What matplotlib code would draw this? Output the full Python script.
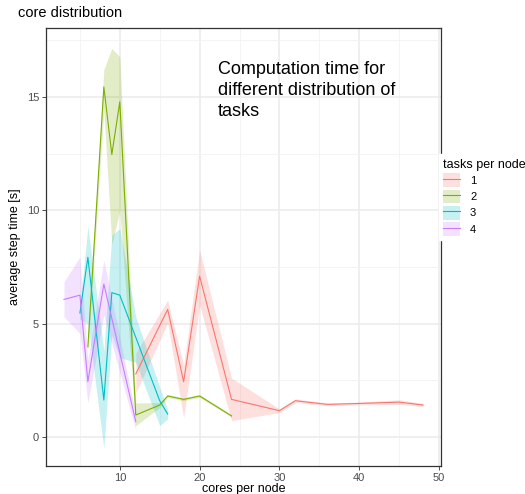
import matplotlib

matplotlib.use("Agg")
import matplotlib.pyplot as plt
from matplotlib.lines import Line2D
from matplotlib.patches import Patch
from matplotlib.legend_handler import HandlerTuple
from matplotlib.ticker import MultipleLocator

plt.rcParams["font.family"] = ["Liberation Sans", "DejaVu Sans"]

# mean step time per cores-per-node, with lower/upper band, for each tasks-per-node setting
t1_cores = [12, 16, 18, 20, 24, 30, 32, 36, 40, 45, 48]
t1_mean = [2.78, 5.63, 2.44, 7.10, 1.66, 1.16, 1.60, 1.44, 1.48, 1.54, 1.41]
t1_lo = [1.94, 5.03, 0.84, 5.82, 0.72, 1.08, 1.52, 1.38, 1.42, 1.44, 1.34]
t1_hi = [3.70, 6.04, 3.18, 8.25, 2.60, 1.24, 1.68, 1.50, 1.54, 1.64, 1.48]

t2_cores = [6, 8, 9, 10, 12, 15, 16, 18, 20, 24]
t2_mean = [3.98, 15.45, 12.47, 14.79, 0.97, 1.41, 1.81, 1.66, 1.81, 0.93]
t2_lo = [3.70, 14.40, 8.50, 10.00, 0.50, 1.30, 1.74, 1.60, 1.75, 0.88]
t2_hi = [4.30, 16.22, 17.15, 16.78, 1.50, 1.52, 1.88, 1.72, 1.87, 0.98]

t3_cores = [5, 6, 8, 9, 10, 12, 15, 16]
t3_mean = [5.47, 7.93, 1.63, 6.37, 6.26, 4.40, 1.60, 1.01]
t3_lo = [5.20, 5.00, -0.50, 4.50, 3.50, 3.30, 0.50, 0.80]
t3_hi = [5.80, 9.30, 3.80, 8.90, 9.20, 5.30, 2.20, 1.20]

t4_cores = [3, 5, 6, 8, 12]
t4_mean = [6.07, 6.26, 2.44, 6.75, 0.68]
t4_lo = [5.31, 4.57, 1.50, 5.40, 0.30]
t4_hi = [6.85, 7.95, 3.40, 7.80, 1.00]

task_labels = ["1", "2", "3", "4"]
colors = ["#F8766D", "#7CAE00", "#00BFC4", "#C77CFF"]

series = [
    (t1_cores, t1_mean, t1_lo, t1_hi),
    (t2_cores, t2_mean, t2_lo, t2_hi),
    (t3_cores, t3_mean, t3_lo, t3_hi),
    (t4_cores, t4_mean, t4_lo, t4_hi),
]

fig = plt.figure(figsize=(5.25, 4.94), dpi=100)
ax = fig.add_axes([0.0876, 0.0567, 0.7524, 0.8866])

for (x, m, lo, hi), c in zip(series, colors):
    ax.fill_between(x, lo, hi, color=c, alpha=0.22, linewidth=0, zorder=2)
    ax.plot(x, m, color=c, linewidth=0.8, zorder=3)

ax.set_xlim(0.75, 50.25)
ax.set_ylim(-1.28, 18.05)
ax.xaxis.set_major_locator(MultipleLocator(10))
ax.xaxis.set_minor_locator(MultipleLocator(5))
ax.yaxis.set_major_locator(MultipleLocator(5))
ax.yaxis.set_minor_locator(MultipleLocator(2.5))

ax.grid(which="major", color="#EBEBEB", linewidth=1.1, zorder=0)
ax.grid(which="minor", color="#F2F2F2", linewidth=0.6, zorder=0)
ax.set_axisbelow(True)

ax.tick_params(which="major", length=3, width=0.6, color="#333333",
               labelsize=8, labelcolor="#4D4D4D", pad=2)
ax.tick_params(which="minor", length=0)
for s in ax.spines.values():
    s.set_color("#333333")
    s.set_linewidth(0.9)

ax.set_xlabel("cores per node", fontsize=9, labelpad=0)
ax.set_ylabel("average step time [s]", fontsize=9, labelpad=4)

fig.text(0.034, 0.959, "core distribution", fontsize=10.5, ha="left", va="bottom")

ax.text(0.435, 0.925, "Computation time for\ndifferent distribution of\ntasks",
        transform=ax.transAxes, fontsize=13, ha="left", va="top", linespacing=1.3)

handles = [
    (Patch(facecolor=c, alpha=0.22, edgecolor="none"),
     Line2D([], [], color=c, linewidth=0.8))
    for c in colors
]
leg = ax.legend(
    handles, task_labels, title="tasks per node",
    handler_map={tuple: HandlerTuple(ndivide=1, pad=0)},
    loc="upper left", bbox_to_anchor=(0.836, 0.688), bbox_transform=fig.transFigure,
    frameon=True, fancybox=False, framealpha=1, edgecolor="white",
    fontsize=8, title_fontsize=9, handlelength=1.5, handleheight=1.5,
    handletextpad=0.9, labelspacing=0.25, borderpad=0.4, borderaxespad=0,
)
leg._legend_box.align = "left"
leg.set_zorder(10)

fig.savefig("out.png", dpi=100, facecolor="white")
